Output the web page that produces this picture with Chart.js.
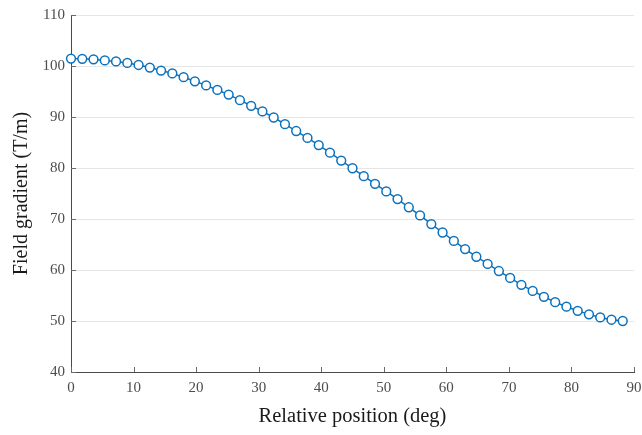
<!DOCTYPE html>
<html>
<head>
<meta charset="utf-8">
<script src="https://cdn.jsdelivr.net/npm/chart.js@4.4.1/dist/chart.umd.min.js"></script>
<style>
    html, body { margin: 0; padding: 0; background: #fff; }
    #wrap { width: 642px; height: 435px; }
</style>
</head>
<body>
<div id="wrap"><canvas id="gradientChart" width="642" height="435"></canvas></div>
<script>
// measured positions along the arc (deg)
const positions = [
    0, 1.8, 3.6, 5.4, 7.2, 9, 10.8, 12.6, 14.4, 16.2,
    18, 19.8, 21.6, 23.4, 25.2, 27, 28.8, 30.6, 32.4, 34.2,
    36, 37.8, 39.6, 41.4, 43.2, 45, 46.8, 48.6, 50.4, 52.2,
    54, 55.8, 57.6, 59.4, 61.2, 63, 64.8, 66.6, 68.4, 70.2,
    72, 73.8, 75.6, 77.4, 79.2, 81, 82.8, 84.6, 86.4, 88.2
];

// field gradient at each position (T/m)
const gradients = [
    101.45, 101.4, 101.3, 101.1, 100.9, 100.6, 100.2, 99.7, 99.1, 98.55,
    97.8, 97.0, 96.2, 95.3, 94.4, 93.3, 92.2, 91.1, 89.9, 88.6,
    87.25, 85.9, 84.5, 83.0, 81.45, 79.95, 78.4, 76.9, 75.4, 73.9,
    72.3, 70.7, 69.0, 67.35, 65.7, 64.1, 62.6, 61.2, 59.8, 58.45,
    57.1, 55.9, 54.75, 53.7, 52.8, 52.0, 51.3, 50.7, 50.25, 50.0
];

const xTicks = [0, 10, 20, 30, 40, 50, 60, 70, 80, 90];
const yTicks = [40, 50, 60, 70, 80, 90, 100, 110];

const BLUE = '#0b72bd';
const AXIS = '#4a4a4a';
const SERIF = '"Liberation Serif", "DejaVu Serif", serif';

// short tick marks drawn inside the axes box
const innerTicks = {
    id: 'innerTicks',
    afterDatasetsDraw(chart) {
        const { ctx, chartArea, scales } = chart;
        const len = 5;
        ctx.save();
        ctx.strokeStyle = '#6a6a6a';
        ctx.lineWidth = 1;
        ctx.beginPath();
        xTicks.forEach(v => {
            const px = Math.round(scales.x.getPixelForValue(v)) + 0.5;
            ctx.moveTo(px, chartArea.bottom);
            ctx.lineTo(px, chartArea.bottom - len);
        });
        yTicks.forEach(v => {
            const py = Math.round(scales.y.getPixelForValue(v)) + 0.5;
            ctx.moveTo(chartArea.left, py);
            ctx.lineTo(chartArea.left + len, py);
        });
        ctx.stroke();
        ctx.restore();
    }
};

const ctx = document.getElementById('gradientChart').getContext('2d');
new Chart(ctx, {
    type: 'line',
    data: {
        datasets: [{
            data: positions.map((x, i) => ({ x, y: gradients[i] })),
            borderColor: BLUE,
            borderWidth: 1.5,
            pointRadius: 4.4,
            pointBorderWidth: 1.5,
            pointBackgroundColor: '#fff',
            pointBorderColor: BLUE,
            tension: 0,
            clip: false
        }]
    },
    options: {
        responsive: false,
        animation: false,
        layout: { autoPadding: false, padding: { top: 14, right: 8, left: 0, bottom: 0 } },
        plugins: {
            legend: { display: false },
            tooltip: { enabled: false }
        },
        scales: {
            x: {
                type: 'linear',
                min: 0,
                max: 90,
                afterBuildTicks: (s) => { s.ticks = xTicks.map(v => ({ value: v })); },
                afterFit: (s) => {
                    s.height = 63;
                    s.paddingLeft = 0;
                    s.paddingRight = 0;
                },
                grid: { display: false, drawTicks: false },
                border: { display: true, color: AXIS, width: 1 },
                ticks: {
                    padding: 7,
                    color: '#4d4d4d',
                    maxRotation: 0,
                    font: { family: SERIF, size: 15 }
                },
                title: {
                    display: true,
                    text: 'Relative position (deg)',
                    color: '#1a1a1a',
                    font: { family: SERIF, size: 20.5 },
                    padding: { top: 4, bottom: 6 }
                }
            },
            y: {
                min: 40,
                max: 110,
                afterBuildTicks: (s) => { s.ticks = yTicks.map(v => ({ value: v })); },
                afterFit: (s) => { s.width = 71; },
                grid: { color: '#e6e6e6', lineWidth: 1, drawTicks: false },
                border: { display: true, color: AXIS, width: 1 },
                ticks: {
                    padding: 6,
                    color: '#4d4d4d',
                    font: { family: SERIF, size: 15 }
                },
                title: {
                    display: true,
                    text: 'Field gradient (T/m)',
                    color: '#1a1a1a',
                    font: { family: SERIF, size: 20 },
                    padding: { top: 10, bottom: 0 }
                }
            }
        }
    },
    plugins: [innerTicks]
});
</script>
</body>
</html>
